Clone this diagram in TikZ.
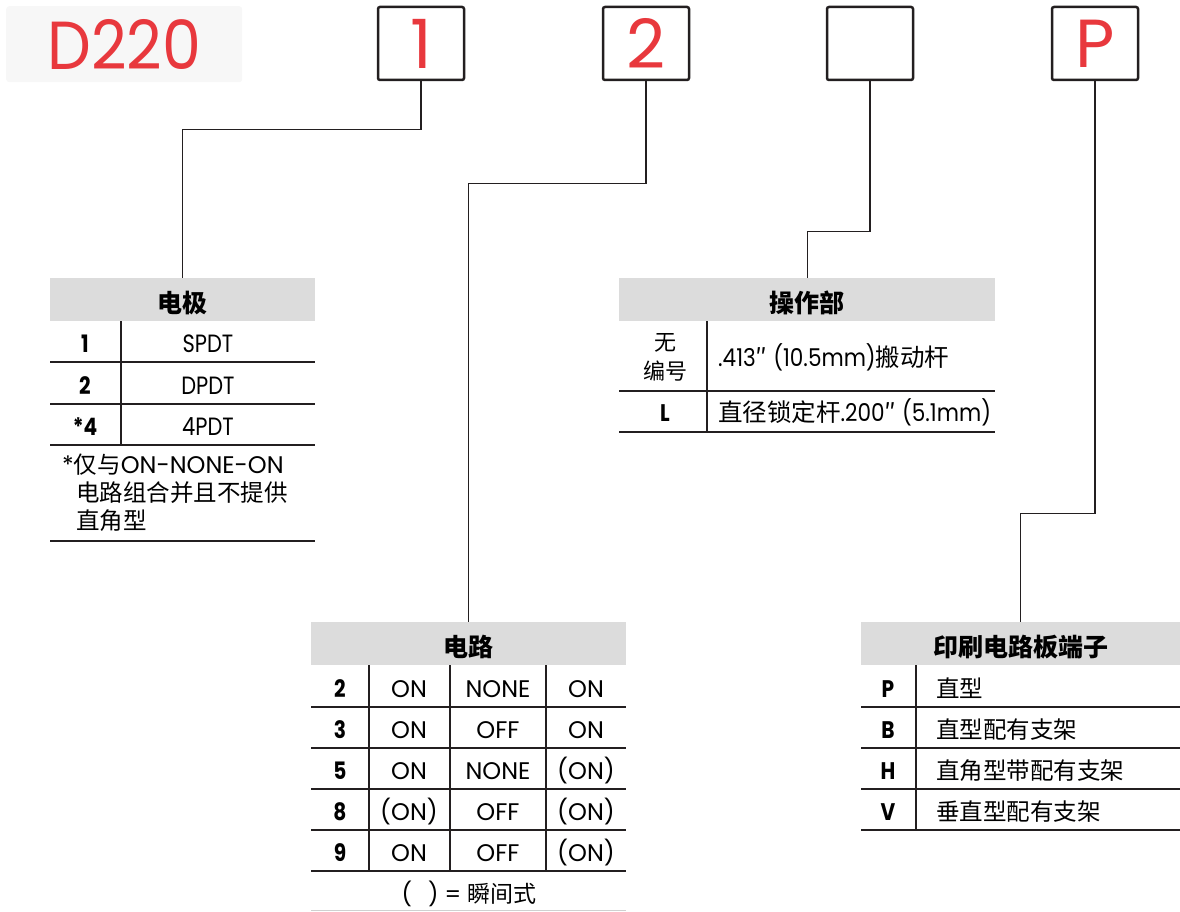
\documentclass[tikz,border=0pt]{standalone}
\usepackage{fontspec}
\setmainfont{Poppins}[FakeStretch=0.84]
\newfontfamily\geo{Poppins}
\newfontfamily\midfont{Poppins}[FakeStretch=0.88]
\newfontfamily\tallfont{Poppins}[FakeStretch=0.91]
\newfontfamily\cjk{Noto Sans CJK SC}
\definecolor{codered}{HTML}{E8383D}
\definecolor{ink}{HTML}{231F20}
\definecolor{hdgray}{HTML}{DCDCDC}
\definecolor{bggray}{HTML}{F7F7F7}
\definecolor{faint}{HTML}{D0D0D0}

\begin{document}
\begin{tikzpicture}[x=1pt, y=-1pt,
    lead/.style={draw=ink, line width=1.2pt},
    selbox/.style={draw=ink, line width=2.5pt, rounded corners=2pt, minimum width=86pt, minimum height=73pt, inner sep=0pt, text=codered, font=\geo\fontsize{68}{68}\selectfont},
    hd/.style={fill=hdgray, anchor=north west, minimum height=43pt, inner sep=0pt, text height=25pt, text depth=0pt, font=\cjk\bfseries\fontsize{25}{25}\selectfont},
    key/.style={anchor=base, inner sep=0pt, font=\bfseries\fontsize{24}{24}\selectfont},
    val/.style={anchor=base, inner sep=0pt, font=\fontsize{25}{25}\selectfont},
    onoff/.style={anchor=base, inner sep=0pt, font=\geo\fontsize{24}{24}\selectfont},
    txt/.style={anchor=base west, inner sep=0pt, font=\midfont\fontsize{24.5}{24.5}\selectfont},
    rule/.style={draw=ink, line width=1.3pt},
    endrule/.style={draw=ink, line width=1.7pt}
]
    \useasboundingbox (0,0) rectangle (1180,912);

    % Part number
    \node[fill=bggray, rounded corners=3pt, anchor=north west, minimum width=236pt, minimum height=76pt, inner sep=0pt, text=codered, font=\tallfont\fontsize{68}{68}\selectfont] (model) at (6,6) {D220};

    % Option boxes
    \node[selbox] (b1) at (421,43.5) {1};
    \node[selbox] (b2) at (646,43.5) {2};
    \node[selbox] (b3) at (870,43.5) {};
    \node[selbox] (bP) at (1095,43.5) {P};

    % Poles
    \node[hd, minimum width=265pt] (hdA) at (50,278) {电极};
    \foreach \k/\v [count=\i] in {1/SPDT, 2/DPDT, *4/4PDT} {
        \node[key] (poleK\i) at (85, 311+41.5*\i) {\k};
        \node[val] (poleV\i) at (208, 311+41.5*\i) {\v};
    }
    \foreach \y in {362,404} \draw[rule] (50,\y) -- (315,\y);
    \draw[rule] (50,445) -- (315,445);
    \draw[rule] (121,321) -- (121,445);
    \node[anchor=north west, align=left, inner sep=0pt, font=\cjk\fontsize{23.5}{28}\selectfont] (noteA) at (62,454)
        {{\geo\fontsize{24}{28}\selectfont*}仅与{\geo\fontsize{24}{28}\selectfont ON-NONE-ON}\\\hspace*{14pt}电路组合并且不提供\\\hspace*{14pt}直角型};
    \draw[endrule] (50,541) -- (315,541);

    % Actuator
    \node[hd, minimum width=376pt] (hdB) at (619,278) {操作部};
    \node[align=center, inner sep=0pt, font=\cjk\fontsize{22}{29}\selectfont] (actK1) at (665,357) {无\\编号};
    \node[txt] (actV1) at (718,366) {.413{\cjk ″} (10.5mm){\cjk 搬动杆}};
    \node[key] (actK2) at (665,421) {L};
    \node[txt] (actV2) at (718,421) {{\cjk 直径锁定杆}.200{\cjk ″} (5.1mm)};
    \draw[rule] (619,391) -- (995,391);
    \draw[endrule] (619,432) -- (995,432);
    \draw[rule] (707,321) -- (707,432);

    % Circuits
    \node[hd, minimum width=315pt] (hdC) at (311,622) {电路};
    \foreach \k/\a/\b/\c [count=\i] in {2/ON/NONE/ON, 3/ON/OFF/ON, 5/ON/NONE/(ON), 8/(ON)/OFF/(ON), 9/ON/OFF/(ON)} {
        \node[key] (cirK\i) at (340, 656+41*\i) {\k};
        \node[onoff] (cirA\i) at (409, 656+41*\i) {\a};
        \node[onoff] (cirB\i) at (498, 656+41*\i) {\b};
        \node[onoff] (cirC\i) at (586, 656+41*\i) {\c};
    }
    \foreach \y in {707,748,789,830,871} \draw[rule] (311,\y) -- (626,\y);
    \foreach \x in {369,450,546} \draw[rule] (\x,665) -- (\x,871);
    \node[anchor=base, inner sep=0pt, font=\geo\fontsize{23}{23}\selectfont] (noteC) at (469,902) {(\hspace{16pt})~=~{\cjk 瞬间式}};
    \draw[faint, line width=1pt] (311,910) -- (626,910);

    % PC terminals
    \node[hd, minimum width=319pt] (hdD) at (861,622) {印刷电路板端子};
    \foreach \k/\v [count=\i] in {P/直型, B/直型配有支架, H/直角型带配有支架, V/垂直型配有支架} {
        \node[key] (pcK\i) at (888, 656+41*\i) {\k};
        \node[txt, font=\cjk\fontsize{23.5}{23.5}\selectfont] (pcV\i) at (936, 656+41*\i) {\v};
    }
    \foreach \y in {707,748,789} \draw[rule] (861,\y) -- (1180,\y);
    \draw[endrule] (861,830) -- (1180,830);
    \draw[rule] (916,665) -- (916,830);

    % Leaders
    \draw[lead] (b1.south) -- ++(0,48) -| (hdA.north);
    \draw[lead] (b2.south) -- ++(0,102) -| (hdC.north);
    \draw[lead] (b3.south) -- ++(0,150) -| (hdB.north);
    \draw[lead] (bP.south) -- ++(0,432) -| (hdD.north);
\end{tikzpicture}
\end{document}
